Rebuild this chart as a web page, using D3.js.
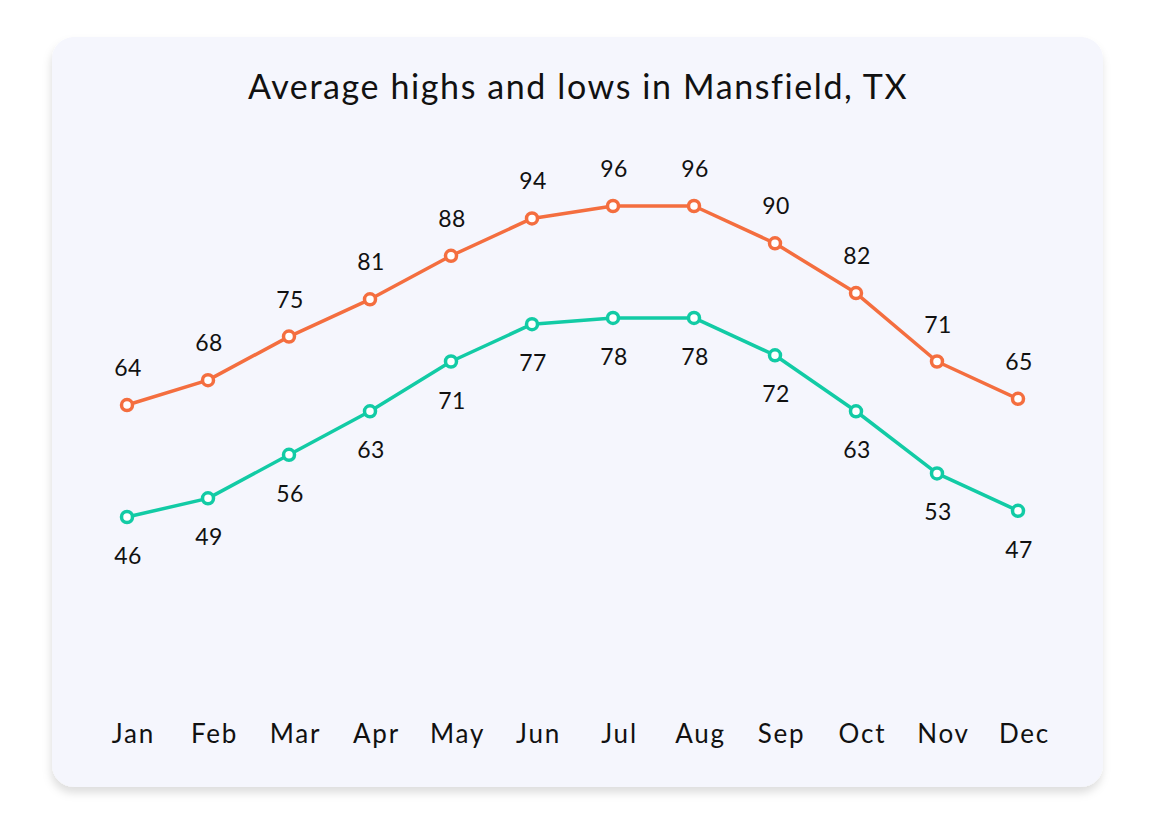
<!DOCTYPE html>
<html><head><meta charset="utf-8">
<script src="https://cdn.jsdelivr.net/npm/d3@7"></script>
<style>html,body{margin:0;padding:0;background:#fff;}svg{display:block;}</style>
</head><body>
<svg id="c" width="1155" height="825"></svg>
<script>
const months = ["Jan","Feb","Mar","Apr","May","Jun","Jul","Aug","Sep","Oct","Nov","Dec"];
const highs = [64,68,75,81,88,94,96,96,90,82,71,65];
const lows  = [46,49,56,63,71,77,78,78,72,63,53,47];
const title = "Average highs and lows in Mansfield, TX";

const svg = d3.select("#c");
const font = "Lato, 'Open Sans', sans-serif";
const defs = svg.append("defs");
const f = defs.append("filter").attr("id","sh").attr("x","-5%").attr("y","-5%").attr("width","110%").attr("height","115%");
f.append("feDropShadow").attr("dx",-1).attr("dy",6).attr("stdDeviation",4).attr("flood-color","#000").attr("flood-opacity",0.13);

svg.append("rect").attr("x",52).attr("y",37).attr("width",1051).attr("height",750)
  .attr("rx",22).attr("fill","#f5f6fd").attr("filter","url(#sh)");

svg.append("text").attr("x",578).attr("y",99).attr("text-anchor","middle")
  .attr("font-family",font).attr("font-size",34).attr("letter-spacing",1.6)
  .attr("fill","#111").text(title);

const x = d3.scalePoint().domain(months).range([127,1018]);
const y = d3.scaleLinear().domain([46,96]).range([517,206]);

const xAxis = svg.append("g").attr("transform","translate(0,743)")
  .call(d3.axisBottom(x).tickSize(0).tickPadding(0));
xAxis.select(".domain").remove();
xAxis.selectAll("text").attr("font-family",font).attr("font-size",26)
  .attr("letter-spacing",1.8).attr("fill","#111").attr("dy",0).attr("dx",6);

const series = [
  {vals: highs, color:"#f46e3f", dy:-29},
  {vals: lows,  color:"#12cba5", dy:47}
];
const line = d3.line().x((d,i)=>x(months[i])).y(d=>y(d));
series.forEach(s=>{
  svg.append("path").attr("d",line(s.vals)).attr("fill","none")
    .attr("stroke",s.color).attr("stroke-width",3.5).attr("stroke-linejoin","round");
  svg.selectAll(null).data(s.vals).enter().append("circle")
    .attr("cx",(d,i)=>x(months[i])).attr("cy",d=>y(d)).attr("r",5.5)
    .attr("fill","#fff").attr("stroke",s.color).attr("stroke-width",3.5);
  svg.selectAll(null).data(s.vals).enter().append("text")
    .attr("x",(d,i)=>x(months[i])).attr("y",d=>y(d)+s.dy)
    .attr("text-anchor","middle").attr("font-family",font).attr("font-size",23)
    .attr("letter-spacing",0.5).attr("dx",1).attr("fill","#111").text(d=>d);
});
</script>
</body></html>
